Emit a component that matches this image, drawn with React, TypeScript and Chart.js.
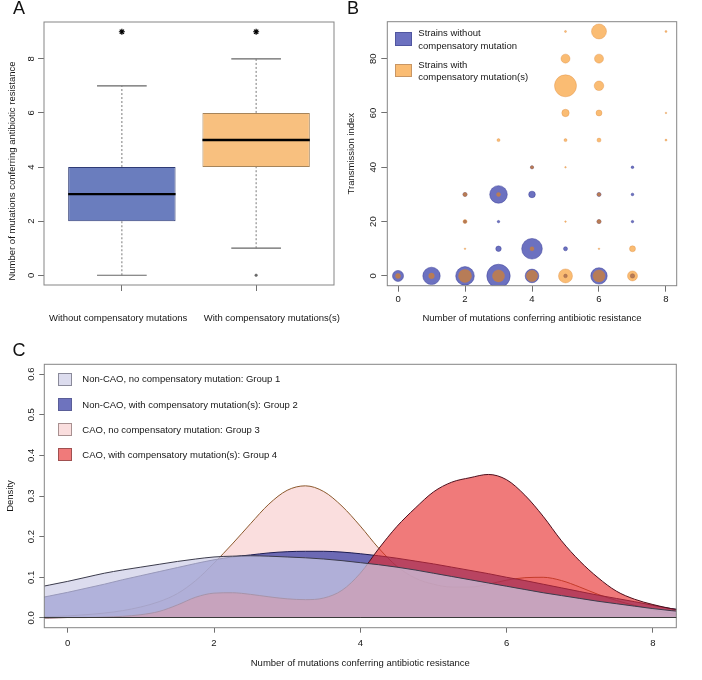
import React, { useEffect, useRef } from 'react';
import { Chart, registerables } from 'chart.js';

Chart.register(...registerables);

const FONT_FAMILY = "'Liberation Sans', Arial, Helvetica, sans-serif";
Chart.defaults.font.family = FONT_FAMILY;
Chart.defaults.font.size = 9.5;
Chart.defaults.color = '#161616';

// ---------------- Panel A: box plot ----------------
const boxCategories = ['Without compensatory mutations', 'With compensatory mutations(s)'];
const boxPositions = [1, 2];
const boxLabelPositions = [0.972, 2.117];
const whiskerLow = [0, 1];
const quartile1 = [2, 4];
const medians = [3, 5];
const quartile3 = [4, 6];
const whiskerHigh = [7, 8];
const outlierX = [2];
const outlierY = [0];
const starX = [1, 2];
const starY = [9, 9];
const aTicksY = [0, 2, 4, 6, 8];

// ---------------- Panel B: bubble plot ----------------
const withoutX = [0, 1, 2, 3, 4, 5, 6, 7, 3, 4, 5, 2, 3, 6, 7, 2, 3, 4, 6, 7, 4, 7];
const withoutY = [0, 0, 0, 0, 0, 0, 0, 0, 10, 10, 10, 20, 20, 20, 20, 30, 30, 30, 30, 30, 40, 40];
const withoutR = [5.5, 8.7, 9.3, 11.7, 6.8, 1.8, 8.2, 2.2, 2.7, 10.3, 2.0, 1.5, 1.2, 2.0, 1.2, 2.0, 8.8, 3.3, 2.0, 1.3, 1.6, 1.3];

const withX = [0, 1, 2, 3, 4, 5, 6, 7, 2, 4, 6, 7, 2, 5, 6, 2, 3, 6, 4, 5, 3, 5, 6, 8, 5, 6, 8, 5, 6, 5, 6, 5, 6, 8];
const withY = [0, 0, 0, 0, 0, 0, 0, 0, 10, 10, 10, 10, 20, 20, 20, 30, 30, 30, 40, 40, 50, 50, 50, 50, 60, 60, 60, 70, 70, 80, 80, 90, 90, 90];
const withR = [2.5, 2.8, 6.5, 6.0, 5.6, 7.0, 6.0, 5.0, 0.8, 2.0, 0.8, 3.0, 2.0, 0.8, 2.0, 2.0, 2.0, 1.8, 1.5, 0.8, 1.5, 1.5, 2.0, 1.0, 3.7, 3.0, 0.8, 11.0, 4.8, 4.5, 4.5, 1.0, 7.5, 1.0];

const bTicksX = [0, 2, 4, 6, 8];
const bTicksY = [0, 20, 40, 60, 80];

// ---------------- Panel C: densities ----------------
const densityX = [-0.5, -0.25, 0, 0.25, 0.5, 0.75, 1, 1.25, 1.5, 1.75, 2, 2.25, 2.5, 2.75, 3, 3.25, 3.5, 3.75, 4, 4.25, 4.5, 4.75, 5, 5.25, 5.5, 5.75, 6, 6.25, 6.5, 6.75, 7, 7.25, 7.5, 7.75, 8, 8.25, 8.5];
const group1 = [0.072, 0.081, 0.090, 0.100, 0.110, 0.118, 0.125, 0.132, 0.139, 0.145, 0.150, 0.152, 0.153, 0.152, 0.150, 0.148, 0.145, 0.141, 0.136, 0.131, 0.125, 0.118, 0.110, 0.102, 0.094, 0.086, 0.078, 0.070, 0.062, 0.055, 0.048, 0.041, 0.035, 0.029, 0.023, 0.018, 0.014];
const group2 = [0.045, 0.054, 0.063, 0.073, 0.083, 0.094, 0.104, 0.114, 0.124, 0.134, 0.143, 0.150, 0.155, 0.160, 0.163, 0.164, 0.164, 0.162, 0.158, 0.153, 0.147, 0.140, 0.133, 0.125, 0.117, 0.109, 0.100, 0.092, 0.083, 0.074, 0.065, 0.056, 0.048, 0.040, 0.031, 0.023, 0.018];
const group3 = [0.002, 0.003, 0.005, 0.008, 0.012, 0.018, 0.027, 0.040, 0.060, 0.092, 0.135, 0.182, 0.232, 0.280, 0.314, 0.325, 0.311, 0.275, 0.226, 0.172, 0.127, 0.098, 0.083, 0.076, 0.076, 0.083, 0.093, 0.099, 0.100, 0.092, 0.076, 0.058, 0.043, 0.031, 0.020, 0.011, 0.006];
const group4 = [0, 0, 0.001, 0.001, 0.002, 0.004, 0.008, 0.016, 0.032, 0.051, 0.061, 0.062, 0.058, 0.052, 0.047, 0.045, 0.049, 0.068, 0.110, 0.170, 0.225, 0.270, 0.310, 0.334, 0.345, 0.353, 0.340, 0.302, 0.250, 0.190, 0.140, 0.099, 0.066, 0.046, 0.033, 0.023, 0.016];
const groupLabels = [
  'Non-CAO, no compensatory mutation: Group 1',
  'Non-CAO, with compensatory mutation(s): Group 2',
  'CAO, no compensatory mutation: Group 3',
  'CAO, with compensatory mutation(s): Group 4',
];
const cTicksX = [0, 2, 4, 6, 8];
const cTicksY = [0, 0.1, 0.2, 0.3, 0.4, 0.5, 0.6];

// ---------------- helpers ----------------
const FRAME = '#858585';
const TICK = '#707070';

const framePlugin = {
  id: 'frame',
  afterDatasetsDraw(chart: any) {
    const { ctx, chartArea } = chart;
    ctx.save();
    ctx.strokeStyle = FRAME;
    ctx.lineWidth = 1;
    ctx.strokeRect(chartArea.left, chartArea.top, chartArea.right - chartArea.left, chartArea.bottom - chartArea.top);
    ctx.restore();
  },
};

const tickGrid = (len: number) => ({ drawOnChartArea: false, drawTicks: true, tickLength: len, color: TICK, lineWidth: 1, offset: false });
const setTicks = (vals: number[]) => (s: any) => { s.ticks = vals.map((v) => ({ value: v })); };

const noPlugins = { legend: { display: false }, tooltip: { enabled: false } };

function configA(): any {
  const BOX_HALF = 0.4;
  const CAP_HALF = 0.185;
  const seg = (pts: any[], color: string, width: number, order: number, dash: number[] = []) => ({
    type: 'line', data: pts, borderColor: color, borderWidth: width, borderDash: dash,
    pointRadius: 0, fill: false, order, xAxisID: 'x', yAxisID: 'y',
  });
  const datasets: any[] = [
    {
      type: 'bar',
      data: boxPositions.map((x, i) => ({ x, y: [quartile1[i], quartile3[i]] })),
      backgroundColor: ['#6A7DBE', '#F8C07F'],
      borderColor: ['#2F3B75', '#A6845A'],
      borderWidth: 1,
      borderSkipped: false,
      barPercentage: 0.8,
      categoryPercentage: 1,
      order: 2,
      xAxisID: 'x', yAxisID: 'y',
    },
  ];
  boxPositions.forEach((p, i) => {
    datasets.push(seg([{ x: p, y: whiskerLow[i] }, { x: p, y: quartile1[i] }], '#7a7a7a', 1, 3, [2, 2]));
    datasets.push(seg([{ x: p, y: quartile3[i] }, { x: p, y: whiskerHigh[i] }], '#7a7a7a', 1, 3, [2, 2]));
    datasets.push(seg([{ x: p - CAP_HALF, y: whiskerLow[i] }, { x: p + CAP_HALF, y: whiskerLow[i] }], '#666', 1.2, 3));
    datasets.push(seg([{ x: p - CAP_HALF, y: whiskerHigh[i] }, { x: p + CAP_HALF, y: whiskerHigh[i] }], '#666', 1.2, 3));
    datasets.push(seg([{ x: p - BOX_HALF, y: medians[i] }, { x: p + BOX_HALF, y: medians[i] }], '#000', 2.4, 0));
  });
  datasets.push({
    type: 'scatter', data: outlierX.map((x, i) => ({ x, y: outlierY[i] })),
    pointStyle: 'circle', pointRadius: 1.3, backgroundColor: '#666', borderColor: '#666', borderWidth: 0.5, order: 0,
    xAxisID: 'x', yAxisID: 'y',
  });
  datasets.push({
    type: 'scatter', data: starX.map((x, i) => ({ x, y: starY[i] })),
    pointStyle: 'star', pointRadius: 3, borderColor: '#000', backgroundColor: '#000', borderWidth: 1.2, order: 0,
    xAxisID: 'x', yAxisID: 'y',
  });
  return {
    type: 'bar',
    data: { datasets },
    plugins: [framePlugin],
    options: {
      responsive: false, animation: false, events: [],
      layout: { padding: { top: 22, right: 11, bottom: 0, left: 0 } },
      plugins: noPlugins,
      scales: {
        x: {
          type: 'linear', min: 0.42, max: 2.58, offset: false, weight: 0,
          afterBuildTicks: setTicks(boxPositions),
          ticks: { display: false },
          grid: tickGrid(6),
          border: { display: false },
          afterFit: (s: any) => { s.height = 27.6; },
        },
        xl: {
          type: 'linear', position: 'bottom', min: 0.42, max: 2.58, offset: false, weight: 1,
          afterBuildTicks: setTicks(boxLabelPositions),
          ticks: { callback: (_v: any, i: number) => boxCategories[i], autoSkip: false, maxRotation: 0, minRotation: 0, padding: 0 },
          grid: { display: false, drawTicks: false, tickLength: 0 },
          border: { display: false },
          afterFit: (s: any) => { s.height = 22.4; },
        },
        y: {
          type: 'linear', min: -0.36, max: 9.36,
          afterBuildTicks: setTicks(aTicksY),
          ticks: { minRotation: 90, maxRotation: 90, crossAlign: 'center', padding: 3.6 },
          grid: tickGrid(6),
          border: { display: false },
          afterFit: (s: any) => { s.width = 44; },
        },
      },
    },
  };
}

function configB(): any {
  return {
    type: 'bubble',
    data: {
      datasets: [
        {
          label: 'Strains with compensatory mutation(s)',
          data: withX.map((x, i) => ({ x, y: withY[i], r: withR[i] })),
          backgroundColor: 'rgba(246,133,0,0.55)',
          borderColor: 'rgba(214,130,50,0.55)',
          borderWidth: 0.6,
          order: 0,
        },
        {
          label: 'Strains without compensatory mutation',
          data: withoutX.map((x, i) => ({ x, y: withoutY[i], r: withoutR[i] })),
          backgroundColor: 'rgba(59,66,171,0.75)',
          borderColor: 'rgba(55,60,150,0.8)',
          borderWidth: 0.6,
          order: 1,
        },
      ],
    },
    plugins: [framePlugin],
    options: {
      responsive: false, animation: false, events: [],
      layout: { padding: { top: 21.7, right: 25.3, bottom: 0, left: 0 } },
      plugins: noPlugins,
      scales: {
        x: {
          type: 'linear', min: -0.32, max: 8.32,
          afterBuildTicks: setTicks(bTicksX),
          ticks: { padding: 1.9, maxRotation: 0 },
          grid: tickGrid(6),
          border: { display: false },
          title: { display: true, text: 'Number of mutations conferring antibiotic resistance', padding: { top: 0, bottom: 11 } },
          afterFit: (s: any) => { s.height = 49.3; },
        },
        y: {
          type: 'linear', min: -3.6, max: 93.6,
          afterBuildTicks: setTicks(bTicksY),
          ticks: { minRotation: 90, maxRotation: 90, crossAlign: 'center', padding: 2.7 },
          grid: tickGrid(6),
          border: { display: false },
          title: { display: true, text: 'Transmission index', padding: { top: 2, bottom: 0 } },
          afterFit: (s: any) => { s.width = 43.3; },
        },
      },
    },
  };
}

function configC(): any {
  const mk = (vals: number[], label: string, fillColor: string, lineColor: string, order: number) => ({
    label,
    data: densityX.map((x, i) => ({ x, y: vals[i] })),
    fill: 'origin',
    backgroundColor: fillColor,
    borderColor: lineColor,
    borderWidth: 1,
    pointRadius: 0,
    cubicInterpolationMode: 'monotone',
    order,
  });
  return {
    type: 'line',
    data: {
      datasets: [
        mk(group1, groupLabels[0], 'rgba(205,205,231,0.7)', '#3c3c4c', 0),
        mk(group2, groupLabels[1], 'rgba(48,55,162,0.7)', '#1d1d52', 2),
        mk(group3, groupLabels[2], 'rgba(238,145,145,0.3)', '#8c5a2e', 3),
        mk(group4, groupLabels[3], 'rgba(231,40,40,0.62)', '#4e0f1c', 1),
      ],
    },
    plugins: [framePlugin],
    options: {
      responsive: false, animation: false, events: [],
      layout: { padding: { top: 29.3, right: 25.7, bottom: 0, left: 0 } },
      plugins: noPlugins,
      scales: {
        x: {
          type: 'linear', min: -0.32, max: 8.32,
          afterBuildTicks: setTicks(cTicksX),
          ticks: { padding: 4.9, maxRotation: 0 },
          grid: tickGrid(5),
          border: { display: false },
          title: { display: true, text: 'Number of mutations conferring antibiotic resistance', padding: { top: 0, bottom: 11 } },
          afterFit: (s: any) => { s.height = 52.3; },
        },
        y: {
          type: 'linear', min: -0.024, max: 0.624,
          afterBuildTicks: setTicks(cTicksY),
          ticks: { minRotation: 90, maxRotation: 90, crossAlign: 'center', padding: 1, callback: (v: any) => Number(v).toFixed(1) },
          grid: {
            drawOnChartArea: true, drawTicks: true, tickLength: 5, tickColor: TICK, z: 1,
            color: (ctx: any) => (ctx.tick && ctx.tick.value === 0 ? '#3a3a3a' : 'rgba(0,0,0,0)'),
          },
          border: { display: false },
          title: { display: true, text: 'Density', padding: { top: 4.3, bottom: 0 } },
          afterFit: (s: any) => { s.width = 44.3; },
        },
      },
    },
  };
}

// ---------------- overlay text helpers ----------------
const baseText: React.CSSProperties = { position: 'absolute', whiteSpace: 'nowrap', fontSize: 9.5, lineHeight: '12px', color: '#161616' };

function Letter({ x, y, t }: { x: number; y: number; t: string }) {
  return <div style={{ position: 'absolute', left: x, top: y, fontSize: 18, lineHeight: 1, color: '#111' }}>{t}</div>;
}

function Swatch({ x, y, w, h, fill, stroke }: any) {
  return <div style={{ position: 'absolute', left: x, top: y, width: w, height: h, background: fill, border: `1px solid ${stroke}`, boxSizing: 'border-box' }} />;
}

function LText({ x, y, t }: { x: number; y: number; t: string }) {
  return <div style={{ ...baseText, left: x, top: y, transform: 'translateY(-50%)' }}>{t}</div>;
}

const legendBColors = [
  { fill: 'rgb(108,113,192)', stroke: 'rgb(80,86,160)' },
  { fill: 'rgb(250,188,115)', stroke: 'rgb(200,150,100)' },
];
const legendCColors = [
  { fill: 'rgb(220,220,238)', stroke: '#8a8a9a' },
  { fill: 'rgb(110,115,190)', stroke: '#5a5e98' },
  { fill: 'rgb(250,222,222)', stroke: '#a89090' },
  { fill: 'rgb(240,122,122)', stroke: '#a05050' },
];

export default function App() {
  const aRef = useRef<HTMLCanvasElement>(null);
  const bRef = useRef<HTMLCanvasElement>(null);
  const cRef = useRef<HTMLCanvasElement>(null);

  useEffect(() => {
    const charts = [
      new Chart(aRef.current as HTMLCanvasElement, configA()),
      new Chart(bRef.current as HTMLCanvasElement, configB()),
      new Chart(cRef.current as HTMLCanvasElement, configC()),
    ];
    return () => charts.forEach((c) => c.destroy());
  }, []);

  return (
    <div style={{ position: 'absolute', left: 0, top: 0, width: 702, height: 680, background: '#fff', fontFamily: FONT_FAMILY, overflow: 'hidden' }}>
      <canvas ref={aRef} width={345} height={335} style={{ position: 'absolute', left: 0, top: 0, width: 345, height: 335 }} />
      <canvas ref={bRef} width={358} height={335} style={{ position: 'absolute', left: 344, top: 0, width: 358, height: 335 }} />
      <canvas ref={cRef} width={702} height={345} style={{ position: 'absolute', left: 0, top: 335, width: 702, height: 345 }} />

      <Letter x={13} y={-0.6} t="A" />
      <Letter x={347} y={-0.6} t="B" />
      <Letter x={12.5} y={341} t="C" />

      <div style={{ ...baseText, left: 12, top: 170.8, transform: 'translate(-50%,-50%) rotate(-90deg)' }}>
        Number of mutations conferring antibiotic resistance
      </div>

      <Swatch x={395} y={32} w={16.7} h={13.7} fill={legendBColors[0].fill} stroke={legendBColors[0].stroke} />
      <LText x={418.3} y={33.3} t="Strains without" />
      <LText x={418.3} y={45.7} t="compensatory mutation" />
      <Swatch x={395} y={64} w={16.7} h={13.3} fill={legendBColors[1].fill} stroke={legendBColors[1].stroke} />
      <LText x={418.3} y={65} t="Strains with" />
      <LText x={418.3} y={77.3} t="compensatory mutation(s)" />

      {groupLabels.map((g, i) => {
        const cy = 379.3 + i * 25.2;
        return (
          <React.Fragment key={g}>
            <Swatch x={58.3} y={cy - 6.6} w={14} h={13.2} fill={legendCColors[i].fill} stroke={legendCColors[i].stroke} />
            <LText x={82.3} y={cy} t={g} />
          </React.Fragment>
        );
      })}
    </div>
  );
}
